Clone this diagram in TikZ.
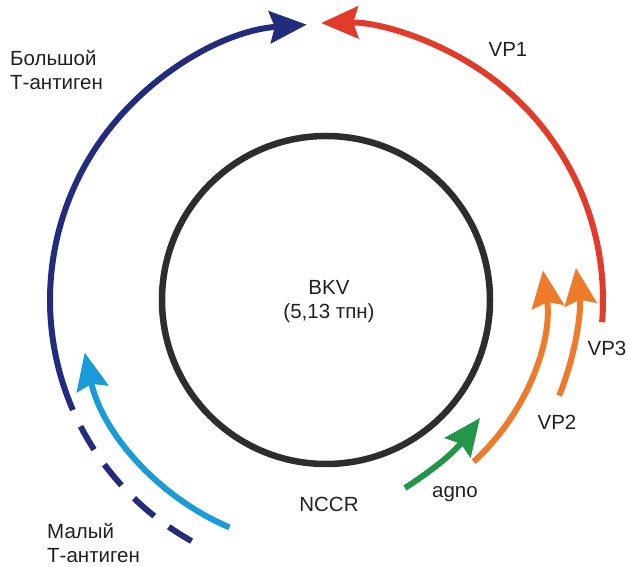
\documentclass[tikz,border=0pt]{standalone}
\usepackage{fontspec}
\setmainfont{Liberation Sans}
\usetikzlibrary{arrows.meta}
\definecolor{navy}{HTML}{232C7C}
\definecolor{vpred}{HTML}{E33B2A}
\definecolor{skyb}{HTML}{1A9BD7}
\definecolor{vporange}{HTML}{EE7B2B}
\definecolor{agnogreen}{HTML}{23964A}
\definecolor{ring}{HTML}{2E2D2D}
\definecolor{txt}{HTML}{231F20}
\begin{document}
\begin{tikzpicture}[x=1pt,y=1pt,
  gene/.style={line width=6pt},
  head/.style={-{Stealth[length=37pt,width=32pt,inset=5pt]}},
  lbl/.style={font=\fontsize{20.5}{24}\selectfont, text=txt, inner sep=0pt},
]
\useasboundingbox (0,0) rectangle (630,567);
\coordinate (c) at (326,267);
% genome ring
\node[circle, draw=ring, line width=6.5pt, minimum size=328pt, inner sep=0pt] (bkv) at (c) {};
\node[lbl, align=center, anchor=north] (bkvtxt) at (329,287) {BKV\\(5,13 тпн)};
% start points of the reading frames
\path (c) ++(203.5:276) coordinate (bigTstart);
\path (c) ++(247:247) coordinate (smallTstart);
\path (c) ++(-4.6:277) coordinate (vp1start);
\path (c) ++(-22.3:252) coordinate (vp3start);
\path (c) ++(-47.6:219) coordinate (vp2start);
\coordinate (agnostart) at (405,79);
\coordinate (agnotip) at (480,149);
% large T antigen
\draw[gene, navy, head] (bigTstart) arc[start angle=203.5, end angle=94, radius=276];
\draw[gene, navy, dash pattern=on 27pt off 18pt, dash phase=27pt] (bigTstart) arc[start angle=203.5, end angle=241, radius=276];
% small T antigen
\draw[gene, skyb, head] (smallTstart) arc[start angle=247, end angle=192.3, radius=247];
% VP1
\draw[gene, vpred, head] (vp1start) arc[start angle=-4.6, end angle=91, radius=277];
% VP2 / VP3
\draw[gene, vporange, head] (vp3start) arc[start angle=-22.3, end angle=7.3, radius=252];
\draw[gene, vporange, head] (vp2start) arc[start angle=-47.6, end angle=7.8, radius=219];
% agno
\draw[gene, agnogreen, head] (agnostart) to[bend right=10] (agnotip);
% labels
\node[lbl, align=left, anchor=north west] (bigT) at (10,517) {Большой\\Т-антиген};
\node[lbl, align=left, anchor=north west] (smallT) at (47,43.5) {Малый\\Т-антиген};
\node[lbl] (vp1) at (508,518) {VP1};
\node[lbl, anchor=north] (nccr) at (329,70) {NCCR};
\node[lbl, anchor=base] (agno) at (455,69.5) {agno};
\node[lbl, anchor=north] (vp2) at (557,152) {VP2};
\node[lbl, anchor=north] (vp3) at (607,226) {VP3};
\end{tikzpicture}
\end{document}
